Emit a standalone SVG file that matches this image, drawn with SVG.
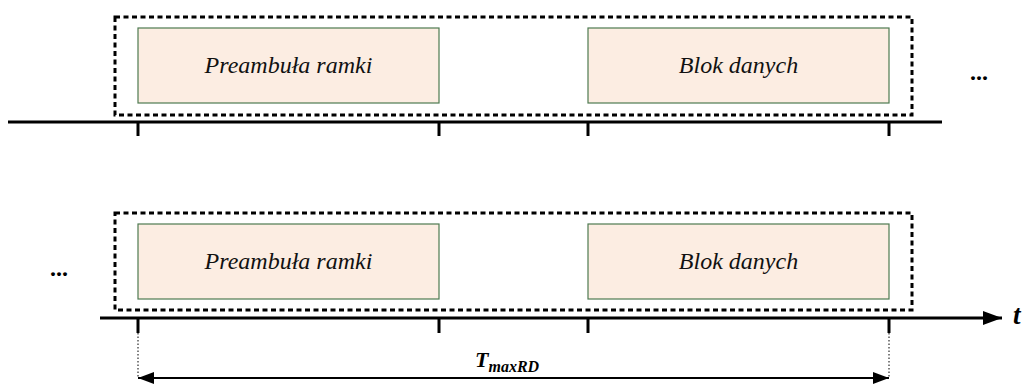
<svg xmlns="http://www.w3.org/2000/svg" width="1025" height="384" viewBox="0 0 1025 384">
<defs>
<marker id="ah" markerWidth="20" markerHeight="14" refX="19" refY="7" orient="auto" markerUnits="userSpaceOnUse">
<path d="M0,0 L19,7 L0,14 Z" fill="#000"/>
</marker>
<marker id="ah2" markerWidth="17" markerHeight="12" refX="16" refY="6" orient="auto-start-reverse" markerUnits="userSpaceOnUse">
<path d="M0,0 L16,6 L0,12 Z" fill="#000"/>
</marker>
</defs>

<g fill="none" stroke="#000" stroke-width="3" stroke-dasharray="5 3.5">
<g id="frame-top">
<rect x="115" y="17" width="797" height="98"/>
</g>
<g id="frame-bottom">
<rect x="115" y="213" width="797" height="97"/>
</g>
</g>

<g fill="#FCEDE2" stroke="#4E7A50" stroke-width="1.2">
<g id="preamble-top">
<rect x="138" y="28" width="301" height="75"/>
<text x="288.5" y="73" font-family="Liberation Serif" font-style="italic" font-size="24" fill="#111" stroke="none" text-anchor="middle">Preambuła ramki</text>
</g>
<g id="data-top">
<rect x="588" y="28" width="301" height="75"/>
<text x="738.5" y="73" font-family="Liberation Serif" font-style="italic" font-size="24" fill="#111" stroke="none" text-anchor="middle">Blok danych</text>
</g>
<g id="preamble-bottom">
<rect x="138" y="224" width="301" height="75"/>
<text x="288.5" y="269" font-family="Liberation Serif" font-style="italic" font-size="24" fill="#111" stroke="none" text-anchor="middle">Preambuła ramki</text>
</g>
<g id="data-bottom">
<rect x="588" y="224" width="301" height="75"/>
<text x="738.5" y="269" font-family="Liberation Serif" font-style="italic" font-size="24" fill="#111" stroke="none" text-anchor="middle">Blok danych</text>
</g>
</g>

<g id="dots-top">
<text x="970" y="80" font-family="Liberation Serif" font-weight="bold" font-size="24">...</text>
</g>
<g id="dots-bottom">
<text x="50" y="276" font-family="Liberation Serif" font-weight="bold" font-size="24">...</text>
</g>

<g id="connectors" stroke="#000" fill="none">
<line stroke-width="2.8" x1="8" y1="122" x2="942" y2="122"/>
<line stroke-width="3" x1="138" y1="122" x2="138" y2="136"/>
<line stroke-width="3" x1="439" y1="122" x2="439" y2="136"/>
<line stroke-width="3" x1="588" y1="122" x2="588" y2="136"/>
<line stroke-width="3" x1="889" y1="122" x2="889" y2="136"/>

<line stroke-width="2.8" x1="100" y1="318" x2="1002" y2="318" marker-end="url(#ah)"/>
<line stroke-width="3" x1="138" y1="318" x2="138" y2="333"/>
<line stroke-width="3" x1="439" y1="318" x2="439" y2="333"/>
<line stroke-width="3" x1="588" y1="318" x2="588" y2="333"/>
<line stroke-width="3" x1="889" y1="318" x2="889" y2="333"/>

<line stroke-width="1" stroke-dasharray="1.5 2" x1="138" y1="333" x2="138" y2="378"/>
<line stroke-width="1" stroke-dasharray="1.5 2" x1="889" y1="333" x2="889" y2="378"/>
<line x1="138" y1="378" x2="889" y2="378" stroke-width="1.8" marker-start="url(#ah2)" marker-end="url(#ah2)"/>
</g>

<g id="label-t">
<text x="1013" y="324" font-family="Liberation Serif" font-weight="bold" font-style="italic" font-size="27">t</text>
</g>
<g id="label-tmax">
<text x="475" y="367" font-family="Liberation Serif" font-weight="bold" font-style="italic" font-size="22">T<tspan font-size="16" dy="5">maxRD</tspan></text>
</g>
</svg>
